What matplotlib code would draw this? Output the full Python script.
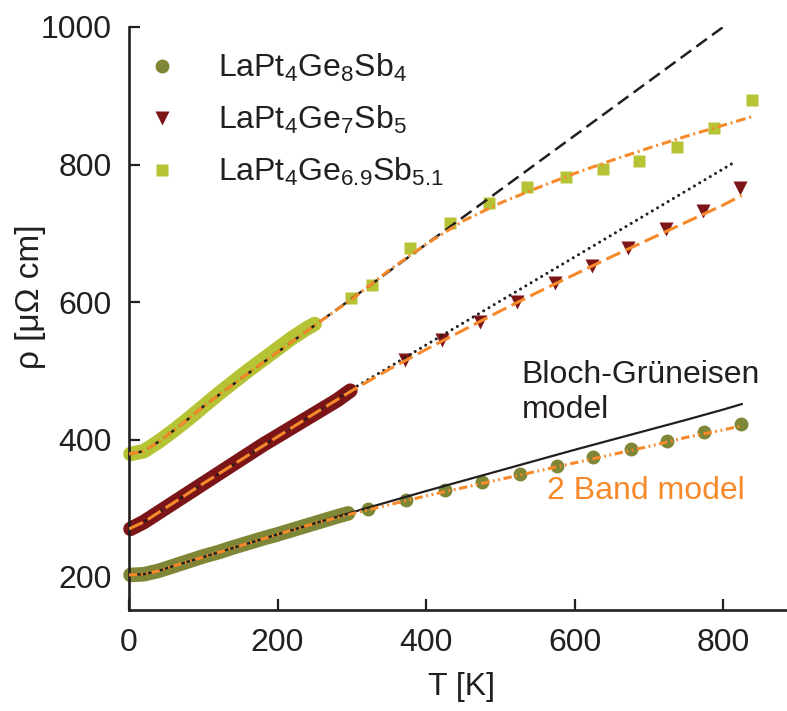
import matplotlib
matplotlib.use("Agg")
import matplotlib.pyplot as plt

plt.rcParams['font.family'] = ['Liberation Sans', 'DejaVu Sans']
plt.rcParams['mathtext.fontset'] = 'custom'
plt.rcParams['mathtext.rm'] = 'Liberation Sans'
plt.rcParams['mathtext.it'] = 'Liberation Sans'
plt.rcParams['mathtext.default'] = 'regular'
plt.rcParams['lines.scale_dashes'] = False

# ---------------- data ----------------
labels = ['LaPt$_4$Ge$_8$Sb$_4$', 'LaPt$_4$Ge$_7$Sb$_5$', 'LaPt$_4$Ge$_{6.9}$Sb$_{5.1}$']

# LaPt4Ge8Sb4 (olive circles)
T1_low = [2, 20, 40, 60, 80, 100, 120, 140, 160, 180, 200, 220, 240, 260, 280, 295]
rho1_low = [203, 204, 209, 216, 223, 230, 236, 243, 249.5, 256, 262, 268.5, 275, 281.5, 288, 292.5]
T1_high = [322, 373, 425, 475, 526, 576, 625, 676, 724, 774, 824]
rho1_high = [298.5, 312, 326.5, 338.6, 349.8, 362, 374, 385.7, 397.8, 410.9, 422.5]

# LaPt4Ge7Sb5 (dark red triangles)
T2_low = [2, 20, 40, 60, 80, 100, 120, 140, 160, 180, 200, 220, 240, 260, 280, 298]
rho2_low = [270, 280, 294, 308, 322, 336, 350, 364, 378, 392, 405, 418, 431, 444, 457, 471]
T2_high = [371, 422, 472, 523, 573, 623, 672.5, 723, 773, 823]
rho2_high = [515.6, 544.7, 571.4, 599.6, 627.2, 652.4, 679, 706.2, 732.4, 765.4]

# LaPt4Ge6.9Sb5.1 (yellow-green squares)
T3_low = [2, 20, 40, 60, 80, 100, 120, 140, 160, 180, 200, 220, 240, 250]
rho3_low = [379, 383, 397, 413, 430, 448, 466, 483, 500, 516, 532, 548, 562, 568]
T3_high = [299, 327, 378.5, 432, 485, 536, 588, 638, 687, 738, 788, 839]
rho3_high = [605.4, 624.7, 679, 715.3, 744.4, 767.7, 782.3, 793, 805, 825.5, 853, 893.8]

# Bloch-Grueneisen model curves
T_bg1 = [0, 20, 40, 60, 80, 100, 150, 200, 250, 300, 350, 400, 450, 500, 550, 600, 650, 700, 750, 800, 825]
rho_bg1 = [203, 204, 209, 216, 222.5, 229, 245.5, 262, 278, 294, 309.5, 325, 340, 355, 370, 385, 399.5, 414, 428.5, 443.5, 451.5]
T_bg2 = [0, 20, 40, 60, 80, 100, 150, 200, 250, 300, 350, 400, 450, 500, 550, 600, 650, 700, 750, 800, 817]
rho_bg2 = [270, 280, 294, 308, 322, 336, 370, 404, 438, 473, 505, 537.5, 569.5, 601.5, 633.5, 665.5, 697.5, 729.5, 761.5, 793.5, 804.5]
T_bg3 = [0, 20, 40, 60, 80, 100, 150, 200, 250, 300, 350, 400, 450, 500, 550, 600, 650, 700, 750, 800, 810]
rho_bg3 = [379, 383, 397, 413, 430, 448, 488, 527, 566, 605, 644.5, 684, 723.5, 763, 802.5, 842, 881.5, 921, 960.5, 1000, 1008]

# 2 band model curves
T_2b1 = [0, 20, 40, 60, 80, 100, 150, 200, 250, 300, 350, 400, 450, 500, 550, 600, 650, 700, 750, 800, 825]
rho_2b1 = [203, 204, 209, 216, 222.5, 229, 245.5, 262, 278, 292, 305, 318, 330, 342, 354, 366, 378, 390, 403, 414, 420]
T_2b2 = [0, 20, 40, 60, 80, 100, 150, 200, 250, 300, 350, 400, 450, 500, 550, 600, 650, 700, 750, 800, 825]
rho_2b2 = [270, 280, 294, 308, 322, 336, 370, 404, 438, 471, 502, 531, 559, 587, 614, 640, 666, 691, 716, 741, 755]
T_2b3 = [0, 20, 40, 60, 80, 100, 150, 200, 250, 300, 350, 400, 450, 500, 550, 600, 650, 700, 750, 800, 840]
rho_2b3 = [379, 383, 397, 413, 430, 448, 488, 527, 566, 604, 646, 684, 718, 744, 766, 787, 806, 824, 841, 857, 870]

x_ticks = [0, 200, 400, 600, 800]
y_ticks = [200, 400, 600, 800, 1000]

# ---------------- style ----------------
c_olive = '#7f8636'
c_red = '#7c1517'
c_yel = '#b6c335'
c_orange = '#f6892a'
c_black = '#231f20'

fig = plt.figure(figsize=(7.87, 7.11), dpi=100)
ax = fig.add_axes([129 / 787, 1 - 610 / 711, 1 - 129 / 787, 583 / 711])

band_lw = 10.5
ms = 10

# dense low-T data (drawn as overlapping markers band)
for T, r, c in [(T1_low, rho1_low, c_olive), (T2_low, rho2_low, c_red), (T3_low, rho3_low, c_yel)]:
    ax.plot(T, r, '-', color=c, lw=band_lw, solid_capstyle='round', zorder=2, clip_on=False)

h1, = ax.plot(T1_high, rho1_high, 'o', color=c_olive, ms=ms, mec='none', zorder=2, label=labels[0])
h2, = ax.plot(T2_high, rho2_high, 'v', color=c_red, ms=ms + 0.5, mec='none', zorder=2, label=labels[1])
h3, = ax.plot(T3_high, rho3_high, 's', color=c_yel, ms=ms - 0.8, mec='none', zorder=2, label=labels[2])

# Bloch-Grueneisen lines
ax.plot(T_bg1, rho_bg1, '-', color=c_black, lw=1.6, zorder=3)
ax.plot(T_bg2, rho_bg2, color=c_black, lw=2.2, linestyle=(0, (0.01, 4.4)), dash_capstyle='round', zorder=3)
ax.plot(T_bg3, rho_bg3, color=c_black, lw=1.8, linestyle=(0, (9.4, 4.6)), zorder=3)

# 2 band model lines
ax.plot(T_2b1, rho_2b1, color=c_orange, lw=2.2, linestyle=(0, (6, 2.6, 1.3, 2.6, 1.3, 2.6)), zorder=4)
ax.plot(T_2b2, rho_2b2, color=c_orange, lw=2.2, linestyle=(0, (11, 4.2)), zorder=4)
ax.plot(T_2b3, rho_2b3, color=c_orange, lw=2.2, linestyle=(0, (7, 2.8, 1.4, 2.8)), zorder=4)

ax.set_xlim(0, 886)
ax.set_ylim(152, 1000)
ax.set_xticks(x_ticks)
ax.set_yticks(y_ticks)
ax.tick_params(axis='both', direction='in', length=7.7, width=1.6, colors=c_black,
               labelsize=23, labelcolor=c_black)
ax.tick_params(axis='y', pad=12.4)
ax.tick_params(axis='x', pad=13)
for s in ['top', 'right']:
    ax.spines[s].set_visible(False)
for s in ['left', 'bottom']:
    ax.spines[s].set_linewidth(1.9)
    ax.spines[s].set_color(c_black)

ax.set_xlabel('T [K]', fontsize=23, color=c_black)
ax.xaxis.set_label_coords((462 - 129) / 658, (610 - 672) / 583)
fig.text(31 / 787, 1 - 297 / 711, 'ρ [μΩ cm]', rotation=90, ha='center', va='center',
         fontsize=24, color=c_black)

ax.text(529, 481.7, 'Bloch-Grüneisen', fontsize=23, color=c_black, ha='left', va='baseline')
ax.text(529, 432, 'model', fontsize=23, color=c_black, ha='left', va='baseline')
ax.text(562.6, 313, '2 Band model', fontsize=23, color=c_orange, ha='left', va='baseline')

leg = ax.legend(handles=[h1, h2, h3], loc='upper left', bbox_to_anchor=(0.0254, 0.957),
                frameon=False, fontsize=23, handlelength=1.0, handletextpad=1.27,
                borderpad=0, borderaxespad=0, labelspacing=0.62, numpoints=1)
for t in leg.get_texts():
    t.set_color(c_black)

fig.savefig('out.png', dpi=100)
